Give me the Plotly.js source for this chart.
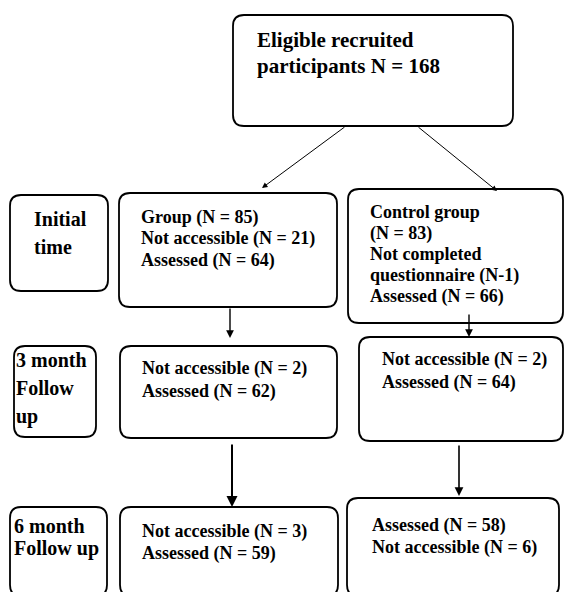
<!DOCTYPE html>
<html>
<head>
<meta charset="utf-8">
<script src="https://cdn.plot.ly/plotly-3.0.1.min.js"></script>
<style>html,body{margin:0;padding:0;background:#fff;}#chart{width:564px;height:592px;}</style>
</head>
<body>
<div id="chart"></div>
<script>
// ---- Data (text content of the flowchart) ----
const recruitedLines = ["Eligible recruited", "participants N = 168"];
const stageInitial = ["Initial", "time"];
const stage3Month = ["3 month", "Follow", "up"];
const stage6Month = ["6 month", "Follow up"];
const groupInitial = ["Group (N = 85)", "Not accessible (N = 21)", "Assessed (N = 64)"];
const controlInitial = ["Control group", "(N = 83)", "Not completed", "questionnaire (N-1)", "Assessed (N = 66)"];
const group3Month = ["Not accessible (N = 2)", "Assessed (N = 62)"];
const control3Month = ["Not accessible (N = 2)", "Assessed (N = 64)"];
const group6Month = ["Not accessible (N = 3)", "Assessed (N = 59)"];
const control6Month = ["Assessed (N = 58)", "Not accessible (N = 6)"];

// ---- Layout geometry (pixel space) ----
const W = 564, H = 592;
const FONT = "Liberation Serif, Times New Roman, serif";
const nodes = [
  {lines: recruitedLines, box: [233, 15, 513, 126], tx: 255, ty: 40, step: 26, size: 21},
  {lines: stageInitial,   box: [10, 195, 108, 291], tx: 32,  ty: 219, step: 28, size: 20},
  {lines: groupInitial,   box: [119, 193, 337, 307], tx: 139, ty: 217, step: 21.5, size: 18},
  {lines: controlInitial, box: [348, 189, 563, 323], tx: 368, ty: 212, step: 21.2, size: 18},
  {lines: stage3Month,    box: [14, 346, 96, 437],  tx: 14,  ty: 360, step: 28, size: 20},
  {lines: group3Month,    box: [120, 346, 337, 438], tx: 140, ty: 368, step: 23, size: 18},
  {lines: control3Month,  box: [359, 337, 563, 441], tx: 380, ty: 359, step: 23, size: 18},
  {lines: stage6Month,    box: [10, 507, 107, 596], tx: 12,  ty: 526, step: 22, size: 20},
  {lines: group6Month,    box: [120, 507, 338, 596], tx: 140, ty: 531, step: 22, size: 18},
  {lines: control6Month,  box: [347, 498, 559, 596], tx: 370, ty: 525, step: 22, size: 18}
];
const arrows = [
  {from: [346, 126], to: [262, 188], w: 1},
  {from: [417, 126], to: [497, 191], w: 1},
  {from: [230, 307], to: [230, 338], w: 1.4},
  {from: [469, 313], to: [469, 337], w: 1.4},
  {from: [232, 443], to: [232, 507], w: 2},
  {from: [459, 444], to: [459, 496], w: 1.6}
];

function roundRect(x0, y0, x1, y1, r) {
  return `M ${x0 + r},${y0} L ${x1 - r},${y0} Q ${x1},${y0} ${x1},${y0 + r} ` +
         `L ${x1},${y1 - r} Q ${x1},${y1} ${x1 - r},${y1} L ${x0 + r},${y1} ` +
         `Q ${x0},${y1} ${x0},${y1 - r} L ${x0},${y0 + r} Q ${x0},${y0} ${x0 + r},${y0} Z`;
}

const shapes = [];
const annotations = [];
nodes.forEach(n => {
  const [x0, y0, x1, y1] = n.box;
  shapes.push({type: 'path', xref: 'x', yref: 'y', path: roundRect(x0, y0, x1, y1, 11),
               line: {color: '#000', width: 1.8}, fillcolor: 'rgba(0,0,0,0)'});
  n.lines.forEach((t, i) => {
    annotations.push({xref: 'x', yref: 'y', x: n.tx, y: n.ty + i * n.step, text: '<b>' + t + '</b>',
      showarrow: false, xanchor: 'left', yanchor: 'middle',
      font: {family: FONT, size: n.size, color: '#000'}});
  });
});
arrows.forEach(a => {
  annotations.push({xref: 'x', yref: 'y', axref: 'x', ayref: 'y',
    x: a.to[0], y: a.to[1], ax: a.from[0], ay: a.from[1], text: '',
    showarrow: true, arrowhead: 2, arrowsize: 1.1, arrowwidth: a.w, arrowcolor: '#000', standoff: 0});
});

const layout = {
  width: W, height: H,
  margin: {l: 0, r: 0, t: 0, b: 0},
  paper_bgcolor: '#fff', plot_bgcolor: '#fff',
  xaxis: {range: [0, W], visible: false, fixedrange: true},
  yaxis: {range: [H, 0], visible: false, fixedrange: true},
  showlegend: false,
  shapes: shapes,
  annotations: annotations
};
Plotly.newPlot('chart', [], layout, {staticPlot: true, displayModeBar: false});
</script>
</body>
</html>
